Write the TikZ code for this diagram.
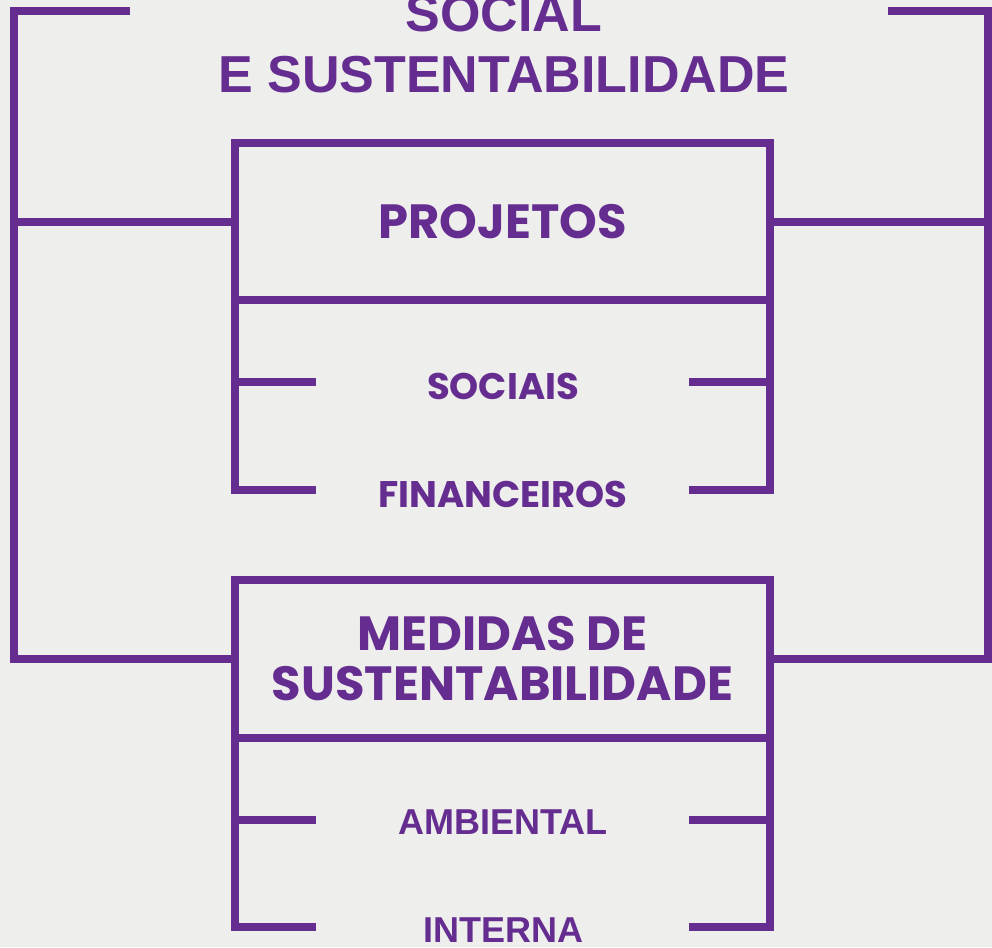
\documentclass[tikz,border=0pt]{standalone}
\usepackage{fontspec}
\setmainfont{Poppins}[BoldFont={* Bold}]
\newfontfamily\dinfont{Liberation Sans}
\definecolor{roxo}{RGB}{102,45,145}
\definecolor{papel}{RGB}{238,238,237}
\tikzset{
  bar/.style={draw=roxo, line width=8pt},
  headbox/.style={draw=roxo, line width=8pt, outer sep=0pt, minimum width=535pt, align=center,
    text=roxo, font=\bfseries\fontsize{48}{50}\selectfont},
  item/.style={text=roxo, inner sep=0pt, font=\bfseries\fontsize{37}{40}\selectfont},
  dinitem/.style={text=roxo, inner sep=0pt, font=\dinfont\bfseries\fontsize{36}{40}\selectfont},
}
\begin{document}
\begin{tikzpicture}[x=1pt,y=-1pt]
    \useasboundingbox (0,0) rectangle (992,947);
    \fill[papel] (0,0) rectangle (992,947);

    \node[text=roxo, align=center, inner sep=0pt, font=\dinfont\bfseries\fontsize{52}{61}\selectfont] at (504,44) (title) {SOCIAL\\E SUSTENTABILIDADE};

    \node[headbox, minimum height=157pt] at (502.5,221.5) (proj) {PROJETOS};
    \node[item] at (503,386) (soc) {SOCIAIS};
    \node[item] at (503,494) (fin) {FINANCEIROS};

    \node[headbox, minimum height=158pt] at (502.5,659) (med) {MEDIDAS DE\\SUSTENTABILIDADE};
    \node[dinitem] at (503,822) (amb) {AMBIENTAL};
    \node[dinitem] at (503,930) (int) {INTERNA};

    % outer frame
    \coordinate (tl) at (130,11);
    \coordinate (tr) at (888,11);
    \draw[bar] (tl) -| (14,659) -- (med.west);
    \draw[bar] (proj.west) -- (14,221.5);
    \draw[bar] (tr) -| (988,659) -- (med.east);
    \draw[bar] (proj.east) -- (988,221.5);

    % brackets under the boxes
    \draw[bar] (proj.south west) |- (316,490);
    \draw[bar] (proj.south east) |- (689,490);
    \draw[bar] (235,382) -- (316,382);
    \draw[bar] (770,382) -- (689,382);

    \draw[bar] (med.south west) |- (316,927);
    \draw[bar] (med.south east) |- (689,927);
    \draw[bar] (235,820) -- (316,820);
    \draw[bar] (770,820) -- (689,820);
\end{tikzpicture}
\end{document}
